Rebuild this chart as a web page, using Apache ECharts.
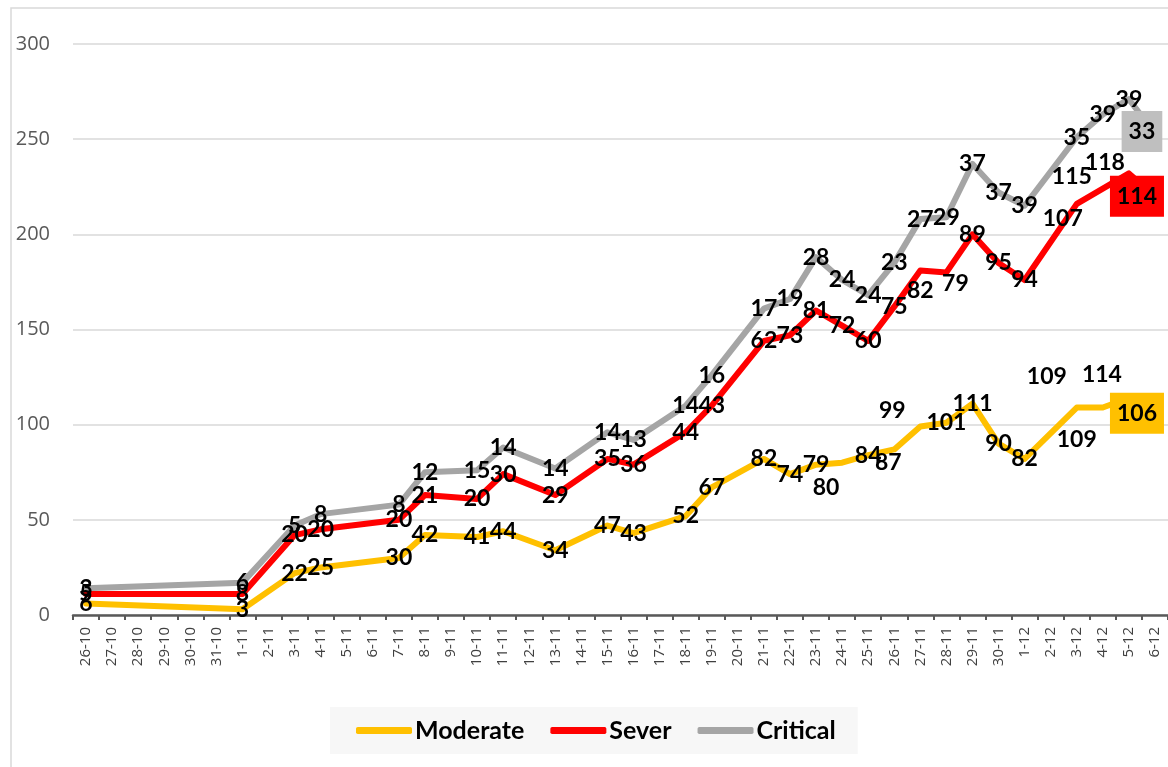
<!DOCTYPE html>
<html>
<head>
<meta charset="utf-8">
<script src="https://cdn.jsdelivr.net/npm/echarts@6/dist/echarts.min.js"></script>
<style>
html, body { margin: 0; padding: 0; background: #fff; }
#container { width: 1168px; height: 767px; }
</style>
</head>
<body>
<div id="container"></div>
<script>
// dates on the x axis (days without data are null in the series)
const dates = ['26-10', '27-10', '28-10', '29-10', '30-10', '31-10',
  '1-11', '2-11', '3-11', '4-11', '5-11', '6-11', '7-11', '8-11', '9-11', '10-11',
  '11-11', '12-11', '13-11', '14-11', '15-11', '16-11', '17-11', '18-11', '19-11', '20-11',
  '21-11', '22-11', '23-11', '24-11', '25-11', '26-11', '27-11', '28-11', '29-11', '30-11',
  '1-12', '2-12', '3-12', '4-12', '5-12', '6-12']

const moderate = [6, null, null, null, null, null, 3, null, 22, 25, null, null, 30, 42, null, 41,
  44, null, 34, null, 47, 43, null, 52, 67, null, 82, 74, 79, 80, 84, 87, 99, 101, 111, 90,
  82, null, 109, 109, 114, 106]
const sever = [5, null, null, null, null, null, 8, null, 20, 20, null, null, 20, 21, null, 20,
  30, null, 29, null, 35, 36, null, 44, 43, null, 62, 73, 81, 72, 60, 75, 82, 79, 89, 95,
  94, null, 107, 115, 118, 114]
const critical = [3, null, null, null, null, null, 6, null, 5, 8, null, null, 8, 12, null, 15,
  14, null, 14, null, 14, 13, null, 14, 16, null, 17, 19, 28, 24, 24, 23, 27, 29, 37, 37,
  39, null, 35, 39, 39, 33]

// labels that were dragged off their point in the original
const moderateShift = { 29: [-16, 25], 31: [-6, 13], 32: [-28, -16], 38: [0, 32], 39: [-56, -31], 40: [-27, -23] }
const severShift = { 32: [0, 20], 33: [9, 11], 38: [-14, 15], 39: [-31, -12], 40: [-24, -11] }
const criticalShift = {}

function makeSeries(name, values, color, boxColor, shifts, lastOffset) {
  return {
    name: name,
    type: 'line',
    stack: 'total',
    connectNulls: true,
    symbol: 'circle',
    symbolSize: 2,
    showAllSymbol: true,
    lineStyle: { color: color, width: 6, join: 'round', cap: 'round' },
    itemStyle: { color: color },
    emphasis: { disabled: true },
    label: {
      show: true,
      position: 'inside',
      color: '#000',
      fontFamily: 'Lato',
      fontWeight: 'bold',
      fontSize: 23
    },
    data: values.map((v, i) => {
      if (v === null) return null
      if (i === values.length - 1) {
        return { value: v, label: { backgroundColor: boxColor, padding: [9, 7], offset: lastOffset } }
      }
      if (shifts[i]) return { value: v, label: { offset: shifts[i] } }
      return v
    })
  }
}

let instance = echarts.init(document.getElementById('container'))

instance.setOption({
  animation: false,
  backgroundColor: '#fff',
  graphic: [{
    type: 'rect',
    silent: true,
    z: -10,
    shape: { x: 11, y: 8, width: 1200, height: 800 },
    style: { fill: null, stroke: '#d9d9d9', lineWidth: 1.5 }
  }],
  grid: {
    left: 73,
    right: -6,
    top: 44,
    bottom: 152
  },
  legend: {
    data: ['Moderate', 'Sever', 'Critical'],
    left: 330,
    top: 707,
    icon: 'roundRect',
    itemWidth: 56,
    itemHeight: 7,
    itemGap: 26,
    padding: [11, 22, 11, 26],
    backgroundColor: '#f7f7f7',
    textStyle: { fontFamily: 'Lato', fontWeight: 'bold', fontSize: 25, color: '#000', padding: [0, 0, 0, -2] }
  },
  xAxis: {
    type: 'category',
    data: dates,
    boundaryGap: true,
    axisLine: { lineStyle: { color: '#595959', width: 2.5 } },
    axisTick: { show: true, length: 5, lineStyle: { color: '#595959', width: 2 } },
    axisLabel: {
      rotate: 90,
      interval: 0,
      margin: 12,
      color: '#404040',
      fontFamily: 'Open Sans',
      fontSize: 15
    }
  },
  yAxis: {
    type: 'value',
    min: 0,
    max: 300,
    interval: 50,
    axisLine: { show: false },
    axisTick: { show: false },
    axisLabel: { color: '#595959', fontFamily: 'Open Sans', fontSize: 20, margin: 23 },
    splitLine: { lineStyle: { color: '#d9d9d9', width: 1.5 } }
  },
  series: [
    makeSeries('Moderate', moderate, '#ffc000', '#ffc000', moderateShift, [-18, 0]),
    makeSeries('Sever', sever, '#ff0000', '#ff0000', severShift, [-18, 0]),
    makeSeries('Critical', critical, '#a5a5a5', '#bfbfbf', criticalShift, [-13, -2])
  ]
})
</script>
</body>
</html>
